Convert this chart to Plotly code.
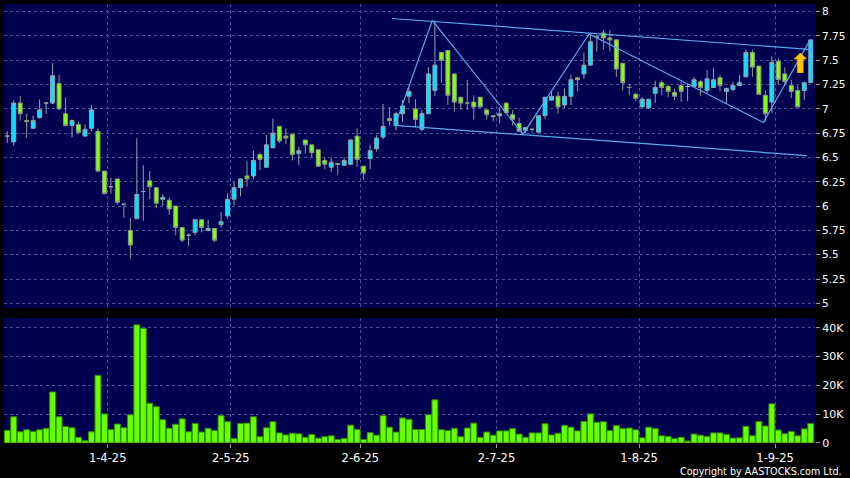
import plotly.graph_objects as go

# ---------------- data ----------------
opens = [6.72, 6.66, 7.06, 6.88, 6.80, 6.91, 7.06, 7.06, 7.26, 6.95,
         6.83, 6.84, 6.72, 6.80, 6.77, 6.36, 6.20, 6.28, 6.02, 5.75,
         5.87, 6.15, 6.26, 6.19, 6.07, 6.06, 6.00, 5.78, 5.70, 5.73,
         5.86, 5.75, 5.77, 5.81, 5.90, 6.07, 6.19, 6.31, 6.31, 6.53,
         6.40, 6.60, 6.82, 6.72, 6.74, 6.54, 6.68, 6.63, 6.58, 6.47,
         6.40, 6.44, 6.42, 6.43, 6.72, 6.41, 6.49, 6.59, 6.71, 6.90,
         6.83, 6.95, 7.13, 7.00, 6.79, 6.95, 7.19, 7.58, 7.60, 7.36,
         7.12, 7.06, 7.07, 7.12, 6.99, 6.93, 6.93, 7.06, 6.94, 6.85,
         6.78, 6.79, 6.76, 6.93, 7.09, 7.13, 7.04, 7.13, 7.32, 7.36,
         7.45, 7.74, 7.78, 7.73, 7.71, 7.47, 7.22, 7.15, 7.02, 7.01,
         7.16, 7.27, 7.23, 7.17, 7.24, 7.23, 7.23, 7.28, 7.19, 7.22,
         7.32, 7.18, 7.20, 7.24, 7.33, 7.58, 7.44, 7.14, 7.07, 7.49,
         7.36, 7.24, 7.19, 7.19, 7.27]
highs = [6.77, 7.09, 7.13, 6.95, 6.93, 7.10, 7.07, 7.47, 7.35, 7.12,
         6.89, 6.87, 6.84, 7.04, 6.80, 6.36, 6.29, 6.28, 6.02, 5.88,
         6.70, 6.42, 6.36, 6.20, 6.12, 6.09, 6.00, 5.78, 5.72, 5.86,
         5.86, 5.86, 5.77, 5.94, 6.13, 6.25, 6.28, 6.46, 6.57, 6.55,
         6.73, 6.90, 6.82, 6.80, 6.74, 6.61, 6.68, 6.63, 6.58, 6.50,
         6.50, 6.44, 6.50, 6.69, 6.80, 6.41, 6.63, 6.73, 7.05, 7.02,
         6.97, 7.09, 7.22, 7.10, 6.99, 7.43, 7.91, 7.58, 7.60, 7.36,
         7.12, 7.30, 7.14, 7.12, 6.99, 6.93, 7.02, 7.06, 6.99, 6.91,
         6.81, 6.80, 6.93, 7.12, 7.18, 7.18, 7.21, 7.35, 7.32, 7.58,
         7.76, 7.76, 7.81, 7.81, 7.71, 7.47, 7.26, 7.17, 7.12, 7.10,
         7.29, 7.29, 7.25, 7.21, 7.28, 7.26, 7.33, 7.30, 7.40, 7.42,
         7.35, 7.22, 7.28, 7.35, 7.61, 7.61, 7.44, 7.19, 7.54, 7.52,
         7.43, 7.30, 7.24, 7.28, 7.71]
lows = [6.65, 6.62, 6.88, 6.70, 6.80, 6.90, 6.95, 7.05, 6.99, 6.82,
        6.71, 6.74, 6.72, 6.77, 6.35, 6.12, 6.13, 6.02, 5.88, 5.46,
        5.87, 5.85, 6.07, 5.98, 6.00, 5.91, 5.70, 5.63, 5.59, 5.70,
        5.73, 5.74, 5.63, 5.78, 5.87, 6.01, 6.10, 6.20, 6.28, 6.37,
        6.40, 6.60, 6.65, 6.64, 6.47, 6.42, 6.54, 6.50, 6.41, 6.38,
        6.35, 6.32, 6.42, 6.42, 6.40, 6.27, 6.38, 6.56, 6.69, 6.83,
        6.78, 6.87, 7.06, 6.81, 6.77, 6.95, 7.13, 7.27, 7.04, 6.97,
        6.99, 6.99, 6.89, 7.02, 6.89, 6.87, 6.85, 6.96, 6.83, 6.77,
        6.75, 6.76, 6.76, 6.90, 7.09, 6.95, 7.01, 7.04, 7.18, 7.31,
        7.45, 7.59, 7.61, 7.59, 7.33, 7.19, 7.14, 7.08, 7.02, 7.01,
        7.06, 7.14, 7.12, 7.09, 7.07, 7.08, 7.23, 7.13, 7.16, 7.22,
        7.18, 7.06, 7.18, 7.24, 7.33, 7.33, 7.15, 6.87, 6.96, 7.25,
        7.25, 7.11, 7.02, 7.09, 7.27]
closes = [6.72, 7.06, 6.95, 6.87, 6.88, 6.99, 7.06, 7.34, 7.00, 6.83,
          6.88, 6.76, 6.79, 6.99, 6.36, 6.13, 6.20, 6.04, 6.02, 5.60,
          6.12, 6.15, 6.20, 6.03, 6.09, 5.97, 5.78, 5.65, 5.70, 5.86,
          5.78, 5.77, 5.65, 5.84, 6.07, 6.19, 6.28, 6.28, 6.47, 6.48,
          6.63, 6.75, 6.67, 6.70, 6.53, 6.57, 6.63, 6.55, 6.41, 6.43,
          6.45, 6.43, 6.47, 6.68, 6.48, 6.34, 6.57, 6.70, 6.82, 6.88,
          6.95, 7.03, 7.18, 6.89, 6.95, 7.36, 7.45, 7.50, 7.14, 7.07,
          7.06, 7.06, 7.02, 7.02, 6.94, 6.92, 6.95, 6.96, 6.89, 6.77,
          6.81, 6.79, 6.93, 7.12, 7.13, 7.02, 7.13, 7.30, 7.30, 7.45,
          7.69, 7.74, 7.73, 7.71, 7.41, 7.27, 7.22, 7.11, 7.10, 7.10,
          7.22, 7.22, 7.18, 7.13, 7.18, 7.23, 7.30, 7.22, 7.31, 7.30,
          7.24, 7.21, 7.24, 7.27, 7.58, 7.43, 7.15, 6.95, 7.48, 7.30,
          7.28, 7.18, 7.02, 7.27, 7.71]
volume_k = [4.4, 9.1, 3.9, 4.6, 4.0, 4.6, 5.1, 17.7, 9.1, 5.7,
            5.3, 2.0, 0.8, 3.9, 23.5, 10.1, 4.7, 6.6, 5.3, 9.8,
            41.0, 39.8, 13.8, 12.6, 8.1, 5.1, 6.5, 8.4, 3.9, 6.8,
            3.8, 5.1, 4.3, 9.5, 7.4, 1.5, 6.8, 6.9, 9.1, 2.2,
            5.3, 7.4, 3.5, 2.8, 3.4, 3.2, 2.0, 3.0, 1.7, 2.2,
            2.5, 1.2, 1.6, 6.2, 4.7, 1.2, 3.6, 2.7, 9.5, 5.5,
            3.8, 8.7, 8.2, 4.7, 4.7, 9.8, 15.0, 4.6, 4.3, 5.1,
            2.2, 5.2, 6.9, 2.0, 3.8, 2.7, 4.2, 4.2, 5.0, 3.1,
            2.0, 3.5, 3.5, 6.7, 2.8, 3.4, 6.1, 5.5, 4.2, 7.5,
            10.1, 7.2, 7.4, 4.3, 6.1, 5.0, 5.2, 4.6, 1.8, 5.5,
            5.0, 2.5, 2.3, 1.5, 2.0, 0.7, 3.1, 2.7, 2.3, 3.5,
            3.5, 3.0, 1.7, 1.8, 5.8, 2.5, 7.5, 5.9, 13.6, 4.5,
            3.2, 4.0, 2.5, 4.9, 6.8]

date_tick_pos = [15.5, 34.5, 54.5, 75.5, 97.5, 118.5]
date_tick_text = ["1-4-25", "2-5-25", "2-6-25", "2-7-25", "1-8-25", "1-9-25"]
price_ticks = [5, 5.25, 5.5, 5.75, 6, 6.25, 6.5, 6.75, 7, 7.25, 7.5, 7.75, 8]
price_tick_text = ["5", "5.25", "5.5", "5.75", "6", "6.25", "6.5", "6.75",
                   "7", "7.25", "7.5", "7.75", "8"]
vol_ticks = [0, 10, 20, 30, 40]
vol_tick_text = ["0", "10K", "20K", "30K", "40K"]

# trend lines drawn on the chart (bar index, price)
channel_upper_x = [59.4, 124.3]
channel_upper_y = [7.93, 7.61]
channel_lower_x = [59.8, 123.4]
channel_lower_y = [6.83, 6.52]
zigzag_x = [59.8, 65.6, 79.6, 89.8, 116.7, 123.9]
zigzag_y = [6.82, 7.91, 6.74, 7.77, 6.86, 7.71]
arrow_x = [122.4]
arrow_y = [7.47]

# ---------------- figure ----------------
idx = list(range(len(opens)))
NAVY = "#000050"
GRID = "#50509a"
LINE = "#55aaee"

fig = go.Figure()
fig.add_trace(go.Candlestick(
    x=idx, open=opens, high=highs, low=lows, close=closes,
    xaxis="x", yaxis="y",
    increasing=dict(fillcolor="#00e5ff", line=dict(color="#8ea4b4", width=1)),
    decreasing=dict(fillcolor="#80ff10", line=dict(color="#8c9c80", width=1)),
    whiskerwidth=0, showlegend=False, hoverinfo="skip",
))
for xs, ys in [(channel_upper_x, channel_upper_y),
               (channel_lower_x, channel_lower_y),
               (zigzag_x, zigzag_y)]:
    fig.add_trace(go.Scatter(x=xs, y=ys, mode="lines", xaxis="x", yaxis="y",
                             line=dict(color=LINE, width=1.2),
                             showlegend=False, hoverinfo="skip"))

fig.add_trace(go.Bar(
    x=idx, y=volume_k, xaxis="x2", yaxis="y2",
    marker=dict(color="#66ff00", line=dict(color="#2f8a00", width=1)),
    showlegend=False, hoverinfo="skip",
))

fig.add_annotation(x=arrow_x[0], y=arrow_y[0], xref="x", yref="y",
                   text="⬆", showarrow=False,
                   font=dict(family="DejaVu Sans", size=27, color="#ffc400"))

fig.add_annotation(x=1.0358, y=-0.064, xref="paper", yref="paper",
                   text="Copyright by AASTOCKS.com Ltd.", showarrow=False,
                   xanchor="right", yanchor="middle",
                   font=dict(family="DejaVu Sans", size=9.6, color="#ffffff"))

axis_common = dict(showline=False, zeroline=False, gridcolor=GRID,
                   griddash="3px,3px", gridwidth=1)

fig.update_layout(
    width=850, height=478,
    margin=dict(l=4, r=35, t=4, b=35),
    paper_bgcolor="#000000", plot_bgcolor=NAVY,
    font=dict(family="DejaVu Sans", color="#ffffff"),
    boxgap=0.13, bargap=0.08,
    showlegend=False,
    xaxis=dict(domain=[0, 1], range=[-0.5, 124.66], anchor="y",
               tickvals=date_tick_pos, ticktext=date_tick_text,
               showticklabels=False, showgrid=True, ticks="",
               rangeslider=dict(visible=False), **axis_common),
    yaxis=dict(domain=[0.3075, 1], range=[4.952, 8.079], side="right",
               anchor="x", tickvals=price_ticks, ticktext=price_tick_text,
               ticks="outside", ticklen=4, tickcolor="#9a9a9a",
               tickfont=dict(size=10.5, color="#ffffff"),
               showgrid=True, **axis_common),
    xaxis2=dict(domain=[0, 1], range=[-0.5, 124.66], anchor="y2",
                matches="x", tickvals=date_tick_pos, ticktext=date_tick_text,
                ticks="outside", ticklen=4, tickcolor="#9a9a9a",
                tickfont=dict(size=11.5, color="#ffffff"),
                showgrid=True, **axis_common),
    yaxis2=dict(domain=[0, 0.2847], range=[0, 43.37], side="right",
                anchor="x2", tickvals=vol_ticks, ticktext=vol_tick_text,
                ticks="outside", ticklen=4, tickcolor="#9a9a9a",
                tickfont=dict(size=11, color="#ffffff"),
                showgrid=True, **axis_common),
)

fig.write_html(
    "out.html",
    config={"displayModeBar": False, "staticPlot": True},
    post_script="document.body.style.margin='0px';"
                "document.body.style.background='#000000';"
                "document.body.style.overflow='hidden';",
)
